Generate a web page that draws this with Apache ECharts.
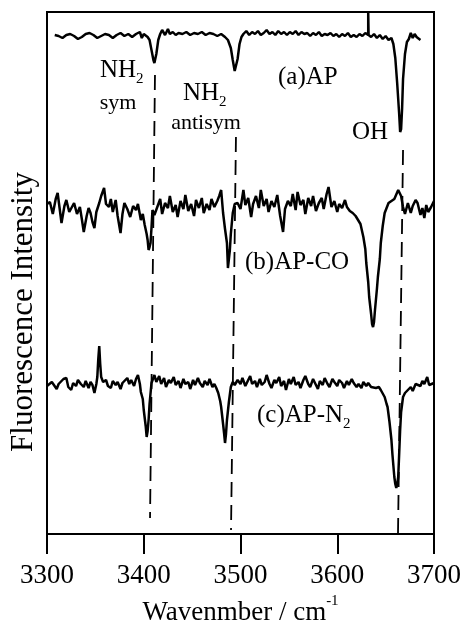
<!DOCTYPE html>
<html>
<head>
<meta charset="utf-8">
<script src="https://cdn.jsdelivr.net/npm/echarts@6/dist/echarts.min.js"></script>
<style>
  html, body { margin: 0; padding: 0; background: #fff; }
  #chart { width: 460px; height: 625px; }
</style>
</head>
<body>
<div id="chart"></div>
<script>
// x: wavenumber (cm-1), y: intensity in arbitrary units (stacked spectra)
const xTicks = [3300, 3400, 3500, 3600, 3700];

// (a) AP
const apWn = [3308, 3312, 3316, 3320, 3324, 3328, 3332, 3336, 3340, 3344, 3348, 3352, 3356, 3360, 3364, 3368,
  3372, 3376, 3380, 3384, 3388, 3392, 3396, 3398, 3400, 3402, 3404, 3406, 3408, 3410, 3411, 3413, 3415, 3417,
  3419, 3422, 3425, 3427, 3430, 3433, 3436, 3440, 3444, 3448, 3452, 3456, 3460, 3464, 3468, 3472, 3476, 3480,
  3484, 3487, 3490, 3492, 3494, 3495, 3497, 3499, 3501, 3503, 3506, 3509, 3512, 3515, 3518, 3521, 3524, 3527,
  3530, 3533, 3536, 3539, 3542, 3545, 3548, 3551, 3554, 3557, 3560, 3563, 3566, 3569, 3572, 3575, 3578, 3581,
  3584, 3587, 3590, 3593, 3596, 3599, 3602, 3605, 3608, 3611, 3614, 3617, 3620, 3623, 3626, 3629, 3632, 3632,
  3632.4, 3635, 3638, 3641, 3644, 3647, 3650, 3653, 3656, 3658, 3660, 3662, 3664, 3665, 3666, 3667, 3668, 3670,
  3672, 3674, 3676, 3678, 3680, 3682, 3684, 3686];
const apVal = [499, 498, 496, 499, 500, 498, 495, 497, 500, 501, 499, 496, 498, 500, 499, 496,
  499, 501, 498, 500, 497, 500, 502, 496, 500, 499, 497, 494, 484, 474, 471, 480, 494, 500,
  504, 499, 505, 500, 502, 499, 501, 500, 502, 499, 501, 500, 502, 499, 501, 500, 498, 500,
  497, 494, 486, 474, 463, 462, 475, 490, 497, 500, 503, 499, 502, 500, 503, 499, 501, 504,
  500, 502, 499, 503, 500, 502, 499, 502, 500, 503, 499, 502, 500, 501, 498, 501, 499, 502,
  498, 500, 499, 501, 498, 500, 497, 500, 498, 501, 497, 499, 497, 500, 498, 501, 499, 522,
  499, 497, 500, 496, 499, 495, 498, 494, 496, 490, 476, 450, 420, 402, 405, 425, 455, 480,
  492, 495, 501, 496, 500, 497, 499, 494];

// (b) AP-CO
const coWn = [3300, 3303, 3306, 3309, 3311, 3313, 3315, 3318, 3320, 3323, 3325, 3328, 3331, 3334, 3336, 3338,
  3341, 3343, 3345, 3347, 3349, 3351, 3354, 3356, 3359, 3361, 3364, 3366, 3368, 3371, 3373, 3376, 3378, 3380,
  3383, 3386, 3389, 3392, 3394, 3397, 3399, 3401, 3403, 3404, 3405, 3406, 3407, 3408, 3409, 3411, 3414, 3417,
  3419, 3422, 3425, 3427, 3430, 3433, 3435, 3438, 3441, 3443, 3446, 3449, 3452, 3454, 3457, 3460, 3462, 3465,
  3468, 3470, 3473, 3476, 3478, 3480, 3482, 3484, 3486, 3487, 3488, 3489, 3490, 3492, 3494, 3497, 3500, 3503,
  3505, 3508, 3511, 3513, 3516, 3519, 3521, 3524, 3527, 3529, 3532, 3535, 3538, 3541, 3544, 3546, 3549, 3552,
  3554, 3557, 3559, 3562, 3565, 3567, 3570, 3573, 3575, 3578, 3581, 3584, 3586, 3589, 3591, 3594, 3597, 3600,
  3602, 3605, 3608, 3610, 3613, 3616, 3619, 3621, 3624, 3627, 3629, 3630, 3632, 3633, 3635, 3636, 3637, 3638,
  3639, 3641, 3642, 3644, 3645, 3647, 3649, 3651, 3653, 3656, 3659, 3661, 3663, 3664, 3666, 3668, 3670, 3673,
  3676, 3678, 3681, 3683, 3686, 3688, 3690, 3692, 3694, 3697, 3700];
const coVal = [330, 332, 320, 335, 341, 326, 311, 328, 334, 322, 324, 331, 320, 327, 315, 302,
  318, 326, 321, 312, 306, 322, 331, 338, 346, 330, 327, 335, 322, 334, 318, 301, 320, 331,
  325, 317, 328, 324, 330, 314, 320, 309, 300, 294, 284, 287, 291, 306, 324, 319, 327, 335,
  320, 331, 326, 338, 322, 329, 317, 333, 325, 339, 323, 330, 318, 334, 326, 336, 321, 330,
  324, 335, 327, 333, 338, 344, 321, 305, 291, 266, 275, 284, 300, 321, 330, 331, 325, 344,
  329, 336, 317, 330, 338, 326, 344, 328, 335, 322, 333, 327, 339, 318, 302, 325, 333, 328,
  340, 324, 342, 329, 334, 320, 336, 328, 338, 323, 331, 336, 325, 340, 347, 327, 333, 322,
  330, 326, 334, 327, 323, 321, 318, 317, 310, 297, 285, 271, 252, 237, 220, 210, 207, 212,
  224, 245, 257, 275, 291, 308, 321, 326, 331, 333, 335, 337, 344, 346, 338, 327, 320, 331,
  321, 328, 334, 331, 319, 326, 316, 329, 322, 327, 333];

// (c) AP-N2
const n2Wn = [3300, 3302, 3305, 3307, 3310, 3312, 3314, 3317, 3320, 3322, 3325, 3327, 3330, 3332, 3335, 3338,
  3340, 3343, 3345, 3347, 3349, 3351, 3352, 3353, 3354, 3355, 3356, 3358, 3361, 3363, 3366, 3368, 3371, 3373,
  3376, 3378, 3380, 3383, 3385, 3387, 3390, 3392, 3394, 3396, 3397, 3399, 3400, 3402, 3403, 3404, 3405, 3406,
  3408, 3411, 3413, 3416, 3418, 3421, 3423, 3426, 3428, 3431, 3433, 3436, 3438, 3441, 3443, 3446, 3448, 3451,
  3453, 3456, 3458, 3461, 3463, 3466, 3468, 3471, 3473, 3475, 3477, 3479, 3480, 3482, 3483, 3484, 3485, 3486,
  3488, 3490, 3492, 3494, 3497, 3500, 3502, 3505, 3507, 3510, 3512, 3515, 3517, 3520, 3522, 3525, 3527, 3530,
  3532, 3535, 3537, 3540, 3542, 3545, 3547, 3550, 3552, 3555, 3557, 3560, 3562, 3565, 3567, 3570, 3572, 3575,
  3577, 3580, 3582, 3585, 3587, 3590, 3592, 3595, 3597, 3600, 3602, 3605, 3607, 3610, 3612, 3615, 3617, 3620,
  3622, 3625, 3627, 3630, 3632, 3635, 3637, 3640, 3643, 3645, 3647, 3649, 3651, 3652, 3654, 3656, 3657, 3659,
  3660, 3661, 3662, 3663, 3664, 3665, 3666, 3668, 3670, 3673, 3676, 3678, 3681, 3683, 3686, 3688, 3690, 3693,
  3695, 3697, 3700];
const n2Val = [148, 146, 152, 152, 145, 150, 149, 155, 156, 147, 144, 151, 148, 154, 150, 147,
  153, 146, 152, 149, 141, 150, 157, 175, 188, 170, 157, 152, 154, 148, 146, 153, 149, 152,
  145, 151, 149, 156, 150, 154, 148, 155, 159, 150, 142, 135, 124, 108, 97, 103, 114, 130,
  151, 159, 152, 158, 150, 156, 147, 154, 151, 157, 149, 153, 146, 155, 150, 152, 145, 154,
  149, 156, 151, 147, 153, 149, 155, 147, 150, 146, 141, 133, 127, 110, 101, 91, 100, 114,
  132, 147, 152, 149, 154, 150, 156, 148, 152, 158, 150, 153, 147, 155, 149, 152, 159, 150,
  146, 154, 151, 157, 148, 153, 144, 155, 150, 157, 149, 152, 146, 154, 158, 150, 147, 155,
  151, 145, 153, 149, 156, 150, 147, 155, 152, 148, 154, 151, 146, 153, 149, 155, 151, 147,
  150, 146, 152, 148, 151, 147, 149, 146, 147, 144, 142, 137, 130, 127, 112, 94, 80, 57,
  50, 46, 50, 57, 80, 104, 122, 137, 141, 144, 147, 143, 150, 151, 148, 153, 150, 157,
  149, 147, 151];

// dashed guide lines: [wn top, y top, wn bottom, y bottom]
const guideSym = [3411.6, 459, 3406.5, 16];
const guideAnti = [3495.3, 397, 3490.2, 4];
const guideOH = [3668, 384, 3662.8, 1];

const serif = '"Liberation Serif", "DejaVu Serif", serif';

function pairs(xs, ys) {
  return xs.map((x, i) => [x, ys[i]]);
}

function trace(name, xs, ys) {
  return {
    name: name,
    type: "line",
    data: pairs(xs, ys),
    showSymbol: false,
    symbol: "none",
    lineStyle: { color: "#000", width: 2.5 },
    animation: false,
  };
}

function guide(g) {
  return {
    type: "line",
    data: [[g[0], g[1]], [g[2], g[3]]],
    showSymbol: false,
    symbol: "none",
    lineStyle: { color: "#000", width: 1.8, type: [15, 8] },
    animation: false,
  };
}

const chart = echarts.init(document.getElementById("chart"));

// subscript: small token pushed to the bottom of a taller line box
const subRich = {
  sub: { fontSize: 15, fontFamily: serif, lineHeight: 15, verticalAlign: "bottom", fill: "#000" },
};

function label(text, x, y, size, align) {
  return {
    type: "text",
    x: x,
    y: y,
    style: {
      text: text,
      fill: "#000",
      fontSize: size,
      fontFamily: serif,
      lineHeight: 34,
      align: align || "left",
      verticalAlign: "middle",
      rich: subRich,
    },
  };
}

chart.setOption({
  animation: false,
  grid: {
    left: 47,
    right: 26,
    top: 12,
    bottom: 91,
    outerBoundsMode: "none",
    containLabel: false,
    show: true,
    borderColor: "#000",
    borderWidth: 2,
  },
  xAxis: {
    type: "value",
    min: xTicks[0],
    max: xTicks[xTicks.length - 1],
    interval: 100,
    name: "Wavenmber / cm{sup|-1}",
    nameLocation: "middle",
    nameGap: 53,
    nameTextStyle: {
      color: "#000",
      fontSize: 27,
      fontFamily: serif,
      lineHeight: 38,
      rich: { sup: { fontSize: 15, fontFamily: serif, lineHeight: 15, verticalAlign: "top", color: "#000" } },
    },
    axisLine: { lineStyle: { color: "#000", width: 2 } },
    axisTick: { inside: false, length: 20, lineStyle: { color: "#000", width: 2 } },
    axisLabel: {
      color: "#000",
      fontSize: 27,
      fontFamily: serif,
      margin: 28,
      formatter: (v) => String(v),
    },
    splitLine: { show: false },
  },
  yAxis: {
    type: "value",
    min: 0,
    max: 522,
    axisLine: { show: true, lineStyle: { color: "#000", width: 2 } },
    axisTick: { show: false },
    axisLabel: { show: false },
    splitLine: { show: false },
  },
  graphic: [
    {
      type: "text",
      x: 24,
      y: 312,
      rotation: Math.PI / 2,
      style: {
        text: "Fluorescence Intensity",
        fill: "#000",
        fontSize: 31,
        fontFamily: serif,
        align: "center",
        verticalAlign: "middle",
      },
    },
    label("NH{sub|2}", 100, 70, 25),
    label("sym", 118, 103, 22, "center"),
    label("NH{sub|2}", 183, 93, 25),
    label("antisym", 206, 123, 22, "center"),
    label("(a)AP", 278, 77, 25),
    label("OH", 352, 132, 25),
    label("(b)AP-CO", 245, 262, 25),
    label("(c)AP-N{sub|2}", 257, 415, 25),
  ],
  series: [
    trace("(a)AP", apWn, apVal),
    trace("(b)AP-CO", coWn, coVal),
    trace("(c)AP-N2", n2Wn, n2Val),
    guide(guideSym),
    guide(guideAnti),
    guide(guideOH),
  ],
});
</script>
</body>
</html>
